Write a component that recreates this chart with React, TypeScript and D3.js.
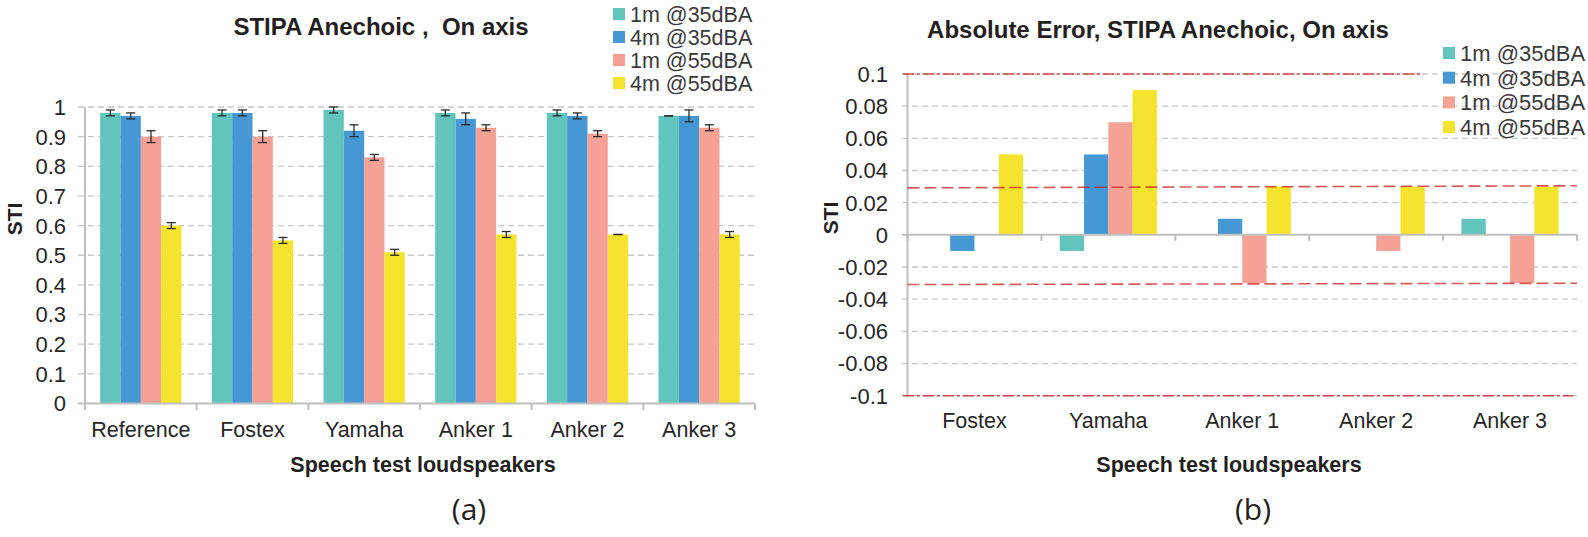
import * as d3 from 'd3'

// left panel: measured STI
const categoriesA = ['Reference', 'Fostex', 'Yamaha', 'Anker 1', 'Anker 2', 'Anker 3']
const seriesNames = ['1m @35dBA', '4m @35dBA', '1m @55dBA', '4m @55dBA']
const sti1m35 = [0.98, 0.98, 0.99, 0.98, 0.98, 0.97]
const sti4m35 = [0.97, 0.98, 0.92, 0.96, 0.97, 0.97]
const sti1m55 = [0.9, 0.9, 0.83, 0.93, 0.91, 0.93]
const sti4m55 = [0.6, 0.55, 0.51, 0.57, 0.57, 0.57]
const sd1m35 = [0.01, 0.01, 0.01, 0.01, 0.01, 0]
const sd4m35 = [0.01, 0.01, 0.02, 0.02, 0.01, 0.02]
const sd1m55 = [0.02, 0.02, 0.01, 0.01, 0.01, 0.01]
const sd4m55 = [0.01, 0.01, 0.01, 0.01, 0, 0.01]
const ticksA = [0, 0.1, 0.2, 0.3, 0.4, 0.5, 0.6, 0.7, 0.8, 0.9, 1]

// right panel: absolute error vs reference
const categoriesB = ['Fostex', 'Yamaha', 'Anker 1', 'Anker 2', 'Anker 3']
const abs1m35 = [0, -0.01, 0, 0, 0.01]
const abs4m35 = [-0.01, 0.05, 0.01, 0, 0]
const abs1m55 = [0, 0.07, -0.03, -0.01, -0.03]
const abs4m55 = [0.05, 0.09, 0.03, 0.03, 0.03]
const ticksB = [0.1, 0.08, 0.06, 0.04, 0.02, 0, -0.02, -0.04, -0.06, -0.08, -0.1]
const limitLines = [0.1, -0.1]
const jndLines = [[0.0292, 0.0305], [-0.0309, -0.0301]] // start / end value

const colors = ['#61c4bd', '#4598d4', '#f6a195', '#f6e32e']
const FONT = '"Liberation Sans", Arial, sans-serif'
const fmt = (d: number) => String(+d.toFixed(2))

function Legend({ x, y, step, size }: { x: number; y: number; step: number; size: number }) {
  return (
    <g>
      {seriesNames.map((s, i) => (
        <g key={s} transform={`translate(${x},${y + i * step})`}>
          <rect x={0} y={-6} width={12} height={12} fill={colors[i]} />
          <text x={17} y={0} dy="0.36em" fontSize={size} fill="#3a3a3a">{s}</text>
        </g>
      ))}
    </g>
  )
}

function PanelA() {
  const x0 = 85, x1 = 755, yTop = 107, yBot = 403.5
  const x = d3.scaleBand().domain(categoriesA).range([x0, x1]).paddingInner(0.272).paddingOuter(0.136)
  const xs = d3.scaleBand().domain(seriesNames).range([0, x.bandwidth()])
  const y = d3.scaleLinear().domain([0, 1]).range([yBot, yTop])
  const vals = [sti1m35, sti4m35, sti1m55, sti4m55]
  const sds = [sd1m35, sd4m35, sd1m55, sd4m55]
  const step = x.step()
  return (
    <g>
      <text x={381} y={35} textAnchor="middle" fontWeight="bold" fontSize={24} fill="#231f20" style={{ whiteSpace: 'pre' }}>
        {'STIPA Anechoic ,  On axis'}
      </text>
      {ticksA.map(t => (
        <g key={t}>
          {t > 0 && <line x1={78} x2={x1} y1={y(t)} y2={y(t)} stroke="#c8c8c8" strokeWidth={1.3} strokeDasharray="6,4" />}
          {t === 0 && <line x1={78} x2={x0} y1={y(t)} y2={y(t)} stroke="#bfbfbf" strokeWidth={2} />}
          <text x={66} y={y(t)} dy="0.36em" textAnchor="end" fontSize={22} fill="#262626">{fmt(t)}</text>
        </g>
      ))}
      {categoriesA.map((c, ci) =>
        vals.map((v, si) => {
          const bx = (x(c) as number) + (xs(seriesNames[si]) as number)
          const bw = xs.bandwidth()
          const cx = bx + bw / 2
          const val = v[ci], e = sds[si][ci]
          return (
            <g key={c + si}>
              <rect x={bx} y={y(val)} width={bw} height={y(0) - y(val)} fill={colors[si]} />
              <line x1={cx} x2={cx} y1={y(val + e)} y2={y(val - e)} stroke="#2b2b2b" strokeWidth={1.3} />
              <line x1={cx - 4.5} x2={cx + 4.5} y1={y(val + e)} y2={y(val + e)} stroke="#2b2b2b" strokeWidth={1.3} />
              <line x1={cx - 4.5} x2={cx + 4.5} y1={y(val - e)} y2={y(val - e)} stroke="#2b2b2b" strokeWidth={1.3} />
            </g>
          )
        })
      )}
      <line x1={x0} x2={x0} y1={yTop} y2={410} stroke="#bfbfbf" strokeWidth={2} />
      <line x1={x0} x2={x1} y1={yBot} y2={yBot} stroke="#bfbfbf" strokeWidth={2} />
      {d3.range(categoriesA.length + 1).map(i => (
        <line key={i} x1={x0 + i * step} x2={x0 + i * step} y1={yBot} y2={410} stroke="#bfbfbf" strokeWidth={2} />
      ))}
      {categoriesA.map(c => (
        <text key={c} x={(x(c) as number) + x.bandwidth() / 2} y={437} textAnchor="middle" fontSize={21.5} fill="#262626">{c}</text>
      ))}
      <text transform="translate(22,219) rotate(-90)" textAnchor="middle" fontWeight="bold" fontSize={21} fill="#231f20">STI</text>
      <text x={423} y={472} textAnchor="middle" fontWeight="bold" fontSize={21.5} fill="#231f20">Speech test loudspeakers</text>
      <Legend x={613} y={14} step={23} size={21.5} />
      <text x={469} y={520} textAnchor="middle" fontSize={30} fill="#231f20" fontFamily='"Open Sans", sans-serif'>(a)</text>
    </g>
  )
}

function PanelB() {
  const x0 = 907.5, x1 = 1577, yTop = 74, yBot = 395.7
  const x = d3.scaleBand().domain(categoriesB).range([x0, x1]).paddingInner(0.274).paddingOuter(0.137)
  const xs = d3.scaleBand().domain(seriesNames).range([0, x.bandwidth()])
  const y = d3.scaleLinear().domain([-0.1, 0.1]).range([yBot, yTop])
  const vals = [abs1m35, abs4m35, abs1m55, abs4m55]
  const step = x.step()
  return (
    <g>
      <text x={1158} y={38} textAnchor="middle" fontWeight="bold" fontSize={24} fill="#231f20">
        Absolute Error, STIPA Anechoic, On axis
      </text>
      {ticksB.map(t => (
        <g key={t}>
          {t !== 0 && <line x1={902} x2={x1} y1={y(t)} y2={y(t)} stroke="#c8c8c8" strokeWidth={1.3} strokeDasharray="6,4" />}
          {t === 0 && <line x1={902} x2={x0} y1={y(t)} y2={y(t)} stroke="#bfbfbf" strokeWidth={2} />}
          <text x={888} y={y(t)} dy="0.36em" textAnchor="end" fontSize={22} fill="#262626">{fmt(t)}</text>
        </g>
      ))}
      {categoriesB.map((c, ci) =>
        vals.map((v, si) => {
          const val = v[ci]
          if (val === 0) return null
          const bx = (x(c) as number) + (xs(seriesNames[si]) as number)
          return (
            <rect key={c + si} x={bx} y={Math.min(y(val), y(0))} width={xs.bandwidth()}
              height={Math.abs(y(val) - y(0))} fill={colors[si]} />
          )
        })
      )}
      <line x1={x0} x2={x0} y1={yTop} y2={yBot} stroke="#bfbfbf" strokeWidth={2} />
      <line x1={x0} x2={x1} y1={y(0)} y2={y(0)} stroke="#bfbfbf" strokeWidth={2} />
      {d3.range(categoriesB.length + 1).map(i => (
        <line key={i} x1={x0 + i * step} x2={x0 + i * step} y1={y(0)} y2={y(0) + 6} stroke="#bfbfbf" strokeWidth={2} />
      ))}
      {limitLines.map((v, i) => (
        <line key={v} x1={903} x2={i === 0 ? 1423 : 1573} y1={y(v)} y2={y(v)}
          stroke="#cc1f1f" strokeOpacity={0.8} strokeWidth={1.6} strokeDasharray="11,3,3,3" />
      ))}
      {jndLines.map(([a, b]) => (
        <line key={a} x1={x0} x2={x1} y1={y(a)} y2={y(b)}
          stroke="#cc1f1f" strokeOpacity={0.75} strokeWidth={1.6} strokeDasharray="12,5" />
      ))}
      {categoriesB.map(c => (
        <text key={c} x={(x(c) as number) + x.bandwidth() / 2} y={428} textAnchor="middle" fontSize={21.5} fill="#262626">{c}</text>
      ))}
      <text transform="translate(838,218) rotate(-90)" textAnchor="middle" fontWeight="bold" fontSize={21} fill="#231f20">STI</text>
      <text x={1229} y={472} textAnchor="middle" fontWeight="bold" fontSize={21.5} fill="#231f20">Speech test loudspeakers</text>
      <Legend x={1443} y={53} step={24.7} size={22} />
      <text x={1253} y={520} textAnchor="middle" fontSize={30} fill="#231f20" fontFamily='"Open Sans", sans-serif'>(b)</text>
    </g>
  )
}

export default function App() {
  return (
    <svg width={1588} height={537} viewBox="0 0 1588 537"
      style={{ position: 'absolute', left: 0, top: 0, background: '#fff' }} fontFamily={FONT}>
      <PanelA />
      <PanelB />
    </svg>
  )
}
